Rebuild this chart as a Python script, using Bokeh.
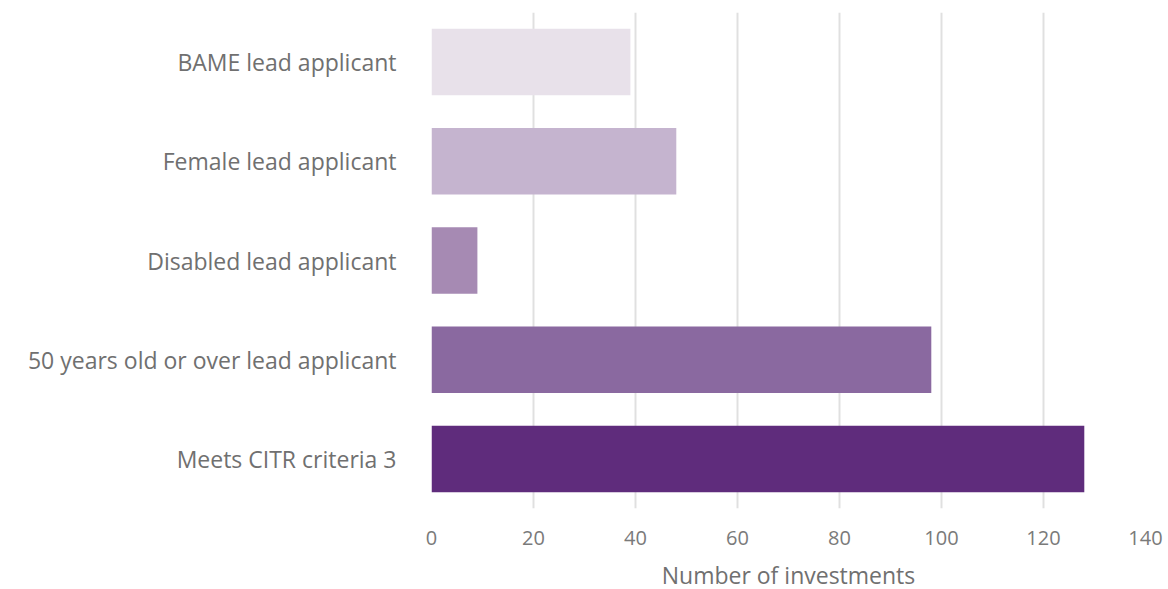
from bokeh.plotting import figure
from bokeh.models import Range1d, FactorRange
from bokeh.embed import file_html
from bokeh.resources import INLINE

categories = ["BAME lead applicant", "Female lead applicant", "Disabled lead applicant",
              "50 years old or over lead applicant", "Meets CITR criteria 3"]
values = [39, 48, 9, 98, 128]
colors = ["#e8e1ea", "#c5b4cf", "#a68ab3", "#8a69a0", "#5f2c7c"]
x_ticks = [0, 20, 40, 60, 80, 100, 120, 140]

FONT = "Open Sans"

p = figure(y_range=FactorRange(*categories[::-1], range_padding=0),
           x_range=Range1d(0, 140),
           frame_width=714, frame_height=496,
           min_border_left=431, min_border_right=23, min_border_top=12, min_border_bottom=77,
           output_backend="svg", toolbar_location=None)

p.hbar(y=categories, right=values, left=0, height=0.67, color=colors, line_color=None)

p.outline_line_color = None
p.background_fill_color = "white"
p.border_fill_color = "white"

p.ygrid.grid_line_color = None
p.xgrid.grid_line_color = "#e0e0e0"
p.xgrid.grid_line_width = 2
p.xaxis.ticker = x_ticks

for ax in (p.xaxis, p.yaxis):
    ax.axis_line_color = None
    ax.major_tick_line_color = None
    ax.minor_tick_line_color = None
    ax.major_label_text_font = FONT
    ax.axis_label_text_font = FONT

p.xaxis.major_label_text_font_size = "20px"
p.xaxis.major_label_text_color = "#7a7a7a"
p.xaxis.major_label_standoff = 16
p.xaxis.axis_label = "Number of investments"
p.xaxis.axis_label_text_font_size = "23px"
p.xaxis.axis_label_text_font_style = "normal"
p.xaxis.axis_label_text_color = "#707070"
p.xaxis.axis_label_standoff = 11

p.yaxis.major_label_text_font_size = "23px"
p.yaxis.major_label_text_color = "#707070"
p.yaxis.major_label_standoff = 29

open("out.html", "w").write(file_html(p, INLINE))
